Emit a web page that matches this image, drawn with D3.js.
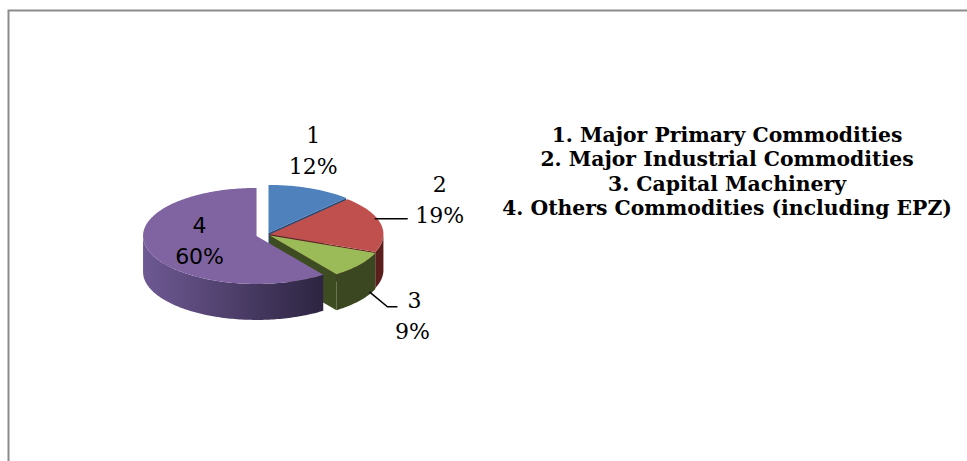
<!DOCTYPE html>
<html>
<head>
<meta charset="utf-8">
<script src="https://cdn.jsdelivr.net/npm/d3@7"></script>
<style>
  html, body { margin: 0; padding: 0; background: #fff; }
  svg { display: block; }
</style>
</head>
<body>
<svg id="chart" width="967" height="461"></svg>
<script>
// data
const categories = ["1", "2", "3", "4"];
const shares = [12, 19, 9, 60];
const legendLines = [
    "1. Major Primary Commodities",
    "2. Major Industrial Commodities",
    "3. Capital Machinery",
    "4. Others Commodities (including EPZ)"
];

// look
const topColors  = ["#4f81bd", "#c0504d", "#9bbb59", "#8064a2"];
const faceColors = ["#2b4b74", "#622320", "#3e4d21", "#3b2f55"];
const wallStops  = [
    ["#3d6696", "#27446a"],
    ["#8e3a38", "#5a1f1d"],
    ["#4b5d29", "#3a4720"],
    ["#6e5993", "#2c2440"]
];
const explode = [4, 3, 3.5, 11];

const svg = d3.select("#chart");
const cx = 267, cy = 234.5, rx = 113.5, ry = 48, depth = 36;

// frame (left and top edges only, the rest runs off the picture)
svg.append("path")
    .attr("d", "M8.5,461 L8.5,10.5 L967,10.5")
    .attr("fill", "none")
    .attr("stroke", "#8c8c8c")
    .attr("stroke-width", 2);

const pie = d3.pie().sort(null).value(d => d)
    .startAngle(0).endAngle(2 * Math.PI);
const arcs = pie(shares).map((a, i) => {
    const mid = (a.startAngle + a.endAngle) / 2;
    const e = explode[i];
    return {
        ...a, i,
        ox: cx + e * Math.sin(mid),
        oy: cy - e * Math.cos(mid) * ry / rx,
        mid
    };
});

const pt = (s, ang, dz = 0) => [s.ox + rx * Math.sin(ang), s.oy - ry * Math.cos(ang) + dz];
function rim(s, a0, a1, dz = 0) {
    const n = Math.max(2, Math.ceil((a1 - a0) / 0.02));
    return d3.range(n + 1).map(k => pt(s, a0 + (a1 - a0) * k / n, dz));
}
const line = d3.line();

const defs = svg.append("defs");
arcs.forEach(s => {
    const g = defs.append("linearGradient").attr("id", "wall" + s.i)
        .attr("gradientUnits", "userSpaceOnUse")
        .attr("x1", s.ox - rx).attr("x2", s.ox + rx * 0.6).attr("y1", 0).attr("y2", 0);
    g.append("stop").attr("offset", "0").attr("stop-color", wallStops[s.i][0]);
    g.append("stop").attr("offset", "1").attr("stop-color", wallStops[s.i][1]);
});

// 1. radial side faces that look towards the viewer
const faces = svg.append("g");
arcs.forEach(s => {
    [[s.startAngle, -1], [s.endAngle, 1]].forEach(([ang, dir]) => {
        // tangent pointing out of the slice; visible if it faces the front
        if (dir * Math.sin(ang) <= 0.01) return;
        const p = pt(s, ang);
        const poly = [[s.ox, s.oy], p, [p[0], p[1] + depth], [s.ox, s.oy + depth]];
        faces.append("path")
            .attr("d", line(poly) + "Z")
            .attr("fill", faceColors[s.i]);
    });
});

// 2. outer walls for the front half
const walls = svg.append("g");
arcs.forEach(s => {
    const a0 = Math.max(s.startAngle, Math.PI / 2);
    const a1 = Math.min(s.endAngle, 3 * Math.PI / 2);
    if (a1 <= a0) return;
    const poly = rim(s, a0, a1).concat(rim(s, a0, a1, depth).reverse());
    walls.append("path")
        .attr("d", line(poly) + "Z")
        .attr("fill", `url(#wall${s.i})`);
});

// 3. top faces
const tops = svg.append("g");
arcs.forEach(s => {
    const poly = [[s.ox, s.oy]].concat(rim(s, s.startAngle, s.endAngle));
    tops.append("path")
        .attr("d", line(poly) + "Z")
        .attr("fill", topColors[s.i]);
});

// data labels: offset from the rim point at each slice's middle angle
const labelFont = ["DejaVu Serif", "DejaVu Serif", "DejaVu Serif", "DejaVu Sans"];
const labelShift = [[3, -45], [59, -32], [53, 43], [51, -18]];
const labels = svg.append("g").attr("font-size", 22).attr("fill", "#000");
arcs.forEach(s => {
    const p = pt(s, s.mid);
    const x = p[0] + labelShift[s.i][0], y = p[1] + labelShift[s.i][1];
    const t = labels.append("text")
        .attr("x", x).attr("y", y)
        .attr("text-anchor", "middle")
        .attr("font-family", labelFont[s.i]);
    t.append("tspan").attr("x", s.i === 2 ? x + 2 : x).text(categories[s.i]);
    t.append("tspan").attr("x", x).attr("dy", 31).text(shares[s.i] + "%");
});

// leader lines for slices 2 and 3
const leaders = svg.append("g").attr("fill", "none").attr("stroke", "#000").attr("stroke-width", 1.5);
{
    const r = arcs[1], p = pt(r, r.mid);
    leaders.append("path").attr("d", line([[p[0] - 6, p[1] - 5], [p[0] + 27, p[1] - 5]]));
    const g = arcs[2], q = pt(g, g.mid, depth * 0.75);
    leaders.append("path").attr("d", line([[q[0] + 10, q[1]], [q[0] + 28, q[1] + 15], [q[0] + 38, q[1] + 15]]));
}

// legend block
const legend = svg.append("g")
    .attr("font-family", "DejaVu Serif")
    .attr("font-weight", "bold")
    .attr("font-size", 18)
    .attr("fill", "#000")
    .attr("text-anchor", "middle");
const rows = legend.selectAll("text").data(legendLines).join("text")
    .attr("x", 727)
    .attr("y", (d, i) => 142 + i * 24.4)
    .text(d => d);
const widest = d3.max(rows.nodes(), n => n.getComputedTextLength());
if (widest > 0) legend.attr("font-size", 18 * 450 / widest);
</script>
</body>
</html>
